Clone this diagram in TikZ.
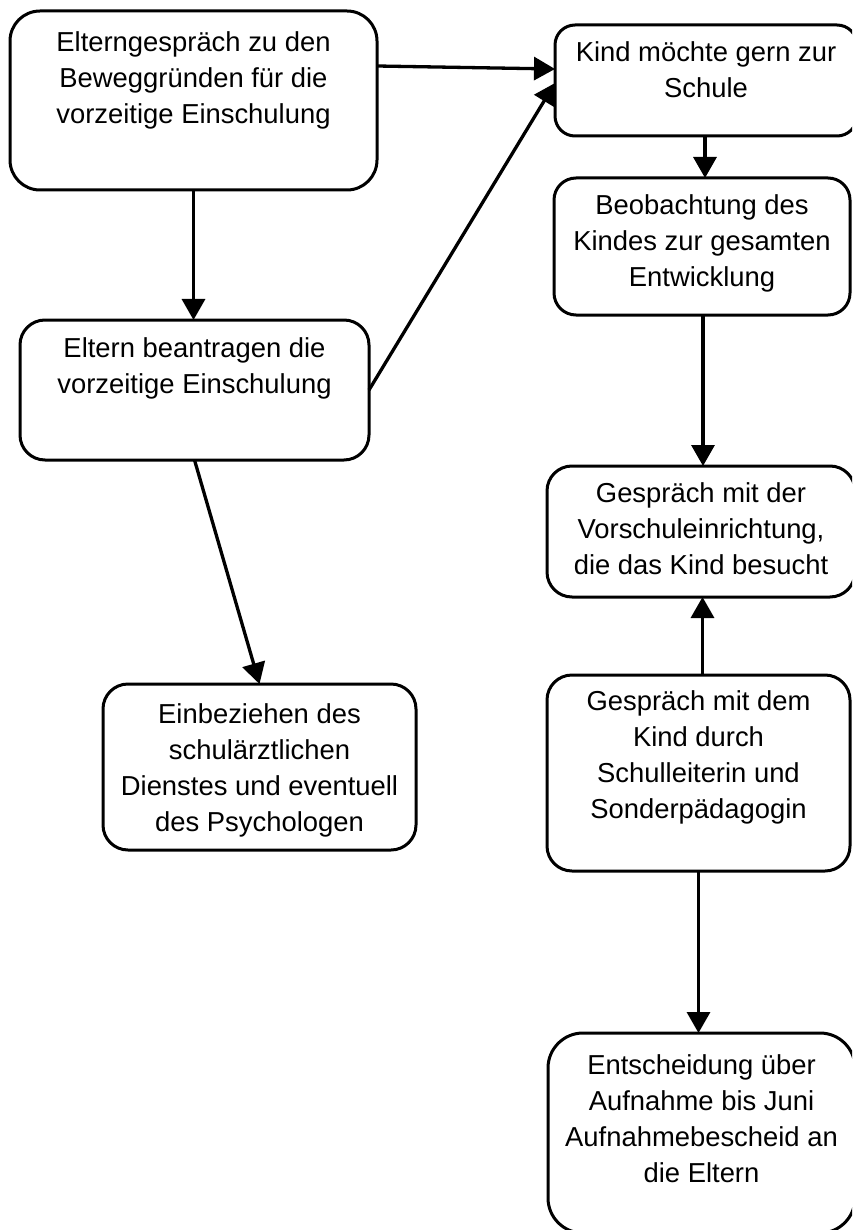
\documentclass[tikz,border=0pt]{standalone}
\usepackage{fontspec}
\setmainfont{Liberation Sans}
\usetikzlibrary{arrows.meta,calc}
\newcommand{\boxtxt}[4]{\parbox[c][#2][t]{#1}{\centering\fontsize{27.4}{36}\selectfont\rule{0pt}{#3}#4\par}}
\tikzset{
  flowbox/.style={draw=black, line width=3pt, inner sep=0pt, outer sep=0pt, fill=white},
  conn/.style={line width=3.3pt, -{Triangle[length=21pt,width=23pt]}}
}
\begin{document}
\begin{tikzpicture}[x=1pt,y=-1pt]
\useasboundingbox (0,0) rectangle (852,1230);
\fill[white] (0,0) rectangle (852,1230);
\clip (0,0) rectangle (852,1230);
% boxes (corners from reference)
\node[flowbox, rounded corners=30pt] (A) at (193.5,100.5)
  {\boxtxt{367pt}{179pt}{41pt}{Elterngespräch zu den\\Beweggründen für die\\vorzeitige Einschulung}};
\node[flowbox, rounded corners=20pt] (B) at (706,80.5)
  {\boxtxt{302pt}{111pt}{37pt}{Kind möchte gern zur\\Schule}};
\node[flowbox, rounded corners=22pt] (C) at (702,246.5)
  {\boxtxt{296pt}{137pt}{37pt}{Beobachtung des\\Kindes zur gesamten\\Entwicklung}};
\node[flowbox, rounded corners=25pt] (D) at (194.5,390)
  {\boxtxt{349pt}{140pt}{37pt}{Eltern beantragen die\\vorzeitige Einschulung}};
\node[flowbox, rounded corners=25pt] (E) at (259.5,767)
  {\boxtxt{313pt}{166pt}{39pt}{Einbeziehen des\\schulärztlichen\\Dienstes und eventuell\\des Psychologen}};
\node[flowbox, rounded corners=25pt] (F) at (701,531.5)
  {\boxtxt{308pt}{131pt}{36pt}{Gespräch mit der\\Vorschuleinrichtung,\\die das Kind besucht}};
\node[flowbox, rounded corners=25pt] (G) at (698.5,773)
  {\boxtxt{303pt}{196pt}{35pt}{Gespräch mit dem\\Kind durch\\Schulleiterin und\\Sonderpädagogin}};
\node[flowbox, rounded corners=35pt] (H) at (701.5,1133)
  {\boxtxt{307pt}{200pt}{41pt}{Entscheidung über\\Aufnahme bis Juni\\Aufnahmebescheid an\\die Eltern}};
% connectors
\draw[conn] ($(A.north east)+(0,55)$) -- ($(B.north west)+(0,44)$);
\draw[conn] (D.east) -- ($(B.north west)+(0,58)$);
\draw[conn] (A.south) -- (A.south |- D.north);
\draw[conn] (D.south) -- (E.north);
\draw[conn] ($(B.south)+(-1,0)$) -- ($(B.south |- C.north)+(-1,0)$);
\draw[conn] ($(C.south)+(1,0)$) -- ($(C.south |- F.north)+(1,0)$);
\draw[conn] ($(G.north)+(4,0)$) -- ($(G.north |- F.south)+(4,0)$);
\draw[conn] (G.south) -- (G.south |- H.north);
\end{tikzpicture}
\end{document}
